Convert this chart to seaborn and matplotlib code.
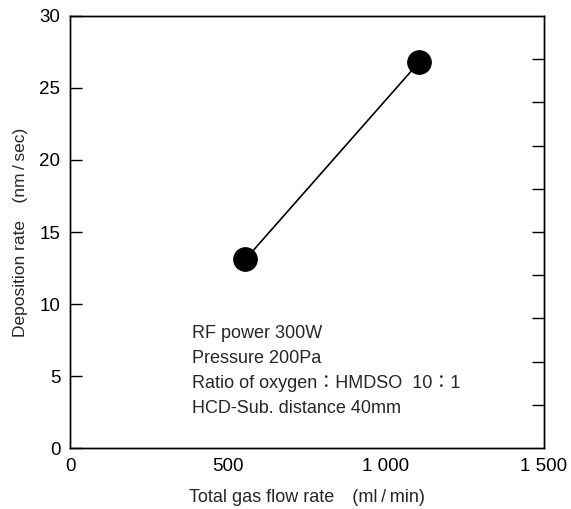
import numpy as np
import pandas as pd
import seaborn as sns
import matplotlib.pyplot as plt
from matplotlib.ticker import FixedLocator, NullFormatter

# data
flow_rate = [555, 1105]          # ml/min
deposition = [13.1, 26.8]        # nm/sec
x_ticks = [0, 500, 1000, 1500]
x_tick_labels = ["0", "500", "1 000", "1 500"]
y_ticks = [0, 5, 10, 15, 20, 25, 30]
y_right_ticks = [3, 6, 9, 12, 15, 18, 21, 24, 27]
notes = ["RF power 300W", "Pressure 200Pa",
         "Ratio of oxygen\uff1aHMDSO  10\uff1a1", "HCD-Sub. distance 40mm"]

sns.set_style("white")
plt.rcParams['font.family'] = ['Liberation Sans', 'Noto Sans CJK JP', 'DejaVu Sans']

df = pd.DataFrame({"flow": flow_rate, "rate": deposition})

fig = plt.figure(figsize=(5.71, 5.09), dpi=100)
ax = fig.add_axes([0.1226, 0.1198, 0.8301, 0.8488])

sns.lineplot(data=df, x="flow", y="rate", ax=ax, color="black", linewidth=1.2,
             marker="o", markersize=17, markeredgecolor="black")

ax.set_xlim(0, 1500)
ax.set_ylim(0, 30)
ax.set_xticks(x_ticks)
ax.set_xticklabels(x_tick_labels)
ax.set_yticks(y_ticks)
ax.tick_params(axis="both", direction="in", length=8.5, width=1, labelsize=13.5,
               color="black", labelcolor="black")
ax.tick_params(axis="x", pad=7)
ax.tick_params(axis="y", pad=7)

# unlabeled ticks on the right side every 3 units
ax2 = ax.twinx()
ax2.set_ylim(0, 30)
ax2.yaxis.set_major_locator(FixedLocator(y_right_ticks))
ax2.yaxis.set_major_formatter(NullFormatter())
ax2.tick_params(axis="y", direction="in", length=8.5, width=1, color="black")

for a in (ax, ax2):
    for s in a.spines.values():
        s.set_color("black")
        s.set_linewidth(1)

ax.set_xlabel("Total gas flow rate\u3000(ml\u2009/\u2009min)", fontsize=13, labelpad=10)
ax.set_ylabel("Deposition rate\u3000(nm\u2009/\u2009sec)", fontsize=12.5, labelpad=8)

for i, line in enumerate(notes):
    ax.text(0.258, 0.265 - i * 0.058, line, transform=ax.transAxes,
            fontsize=13, va="center", ha="left")

plt.savefig("out.png", dpi=100)
